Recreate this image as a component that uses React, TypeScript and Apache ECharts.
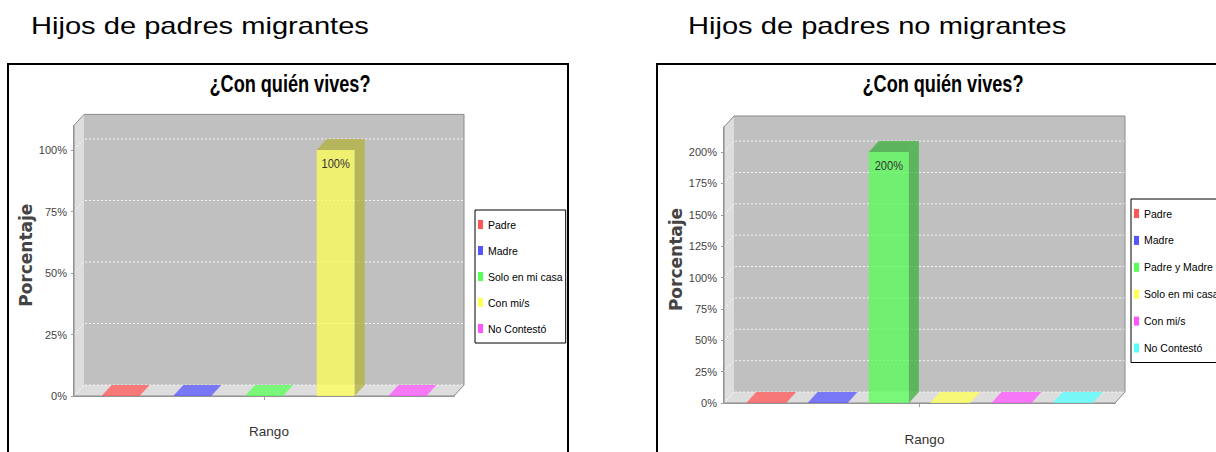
import React, { useEffect, useRef } from 'react';
import * as echarts from 'echarts';

// ---------- data ----------
const HEADINGS = ['Hijos de padres migrantes', 'Hijos de padres no migrantes'];
const CHART_TITLE = '¿Con quién vives?';
const X_NAME = 'Rango';
const Y_NAME = 'Porcentaje';

const leftCategories = ['Padre', 'Madre', 'Solo en mi casa', 'Con mi/s', 'No Contestó'];
const leftValues = [0, 0, 0, 100, 0];
const leftTicks = [0, 25, 50, 75, 100];
const leftMax = 110;

const rightCategories = ['Padre', 'Madre', 'Padre y Madre', 'Solo en mi casa', 'Con mi/s', 'No Contestó'];
const rightValues = [0, 0, 200, 0, 0, 0];
const rightTicks = [0, 25, 50, 75, 100, 125, 150, 175, 200];
const rightMax = 220;

const seriesRGB = [
  [255, 85, 85],
  [85, 85, 255],
  [85, 255, 85],
  [255, 255, 85],
  [255, 85, 255],
  [85, 255, 255],
];

// ---------- layout ----------
const SANS = "'Liberation Sans', Arial, sans-serif";
const ALPHA = 0.75;

const panels = [
  {
    cats: leftCategories, vals: leftValues, ticks: leftTicks, max: leftMax,
    frame: { x: 8, y: 64, w: 560, h: 420 },
    heading: { x: 31, y: 26.5 },
    title: { x: 290, y: 84.5 },
    grid: { left: 74, top: 125.4, width: 380, height: 270.6 },
    dx: 10, dy: 11, spacing: 0.1887, barW: 0.1,
    yNameGap: 36.5, xOffset: 5.5,
    legend: { left: 475, top: 210, itemGap: 15 },
  },
  {
    cats: rightCategories, vals: rightValues, ticks: rightTicks, max: rightMax,
    frame: { x: 657, y: 64, w: 620, h: 420 },
    heading: { x: 688, y: 26.5 },
    title: { x: 943, y: 84.5 },
    grid: { left: 724, top: 127, width: 391, height: 276 },
    dx: 10, dy: 11, spacing: 0.1568, barW: 0.1023,
    yNameGap: 38.5, xOffset: 6,
    legend: { left: 1131, top: 199, itemGap: 15.9 },
  },
];

const rgba = (c: number[], a: number) => `rgba(${c[0]},${c[1]},${c[2]},${a})`;
const darker = (c: number[]) => c.map((v) => Math.floor(v * 0.7));

function backdropRenderer(ticks: number[], dx: number, dy: number) {
  return (params: any, api: any) => {
    const cs = params.coordSys;
    const x0 = cs.x, x1 = cs.x + cs.width, yT = cs.y, yB = cs.y + cs.height;
    const children: any[] = [];
    children.push({ type: 'rect', shape: { x: x0 + dx, y: yT - dy, width: x1 - x0, height: yB - yT }, style: { fill: '#c0c0c0' } });
    children.push({ type: 'polygon', shape: { points: [[x0, yT], [x0 + dx, yT - dy], [x0 + dx, yB - dy], [x0, yB]] }, style: { fill: '#dddddd' } });
    children.push({ type: 'polygon', shape: { points: [[x0, yB], [x0 + dx, yB - dy], [x1 + dx, yB - dy], [x1, yB]] }, style: { fill: '#dddddd' } });
    ticks.forEach((v) => {
      const y = api.coord([0, v])[1];
      children.push({
        type: 'polyline',
        shape: { points: [[x0, y], [x0 + dx, y - dy], [x1 + dx, y - dy]] },
        style: { fill: 'none', stroke: 'rgba(255,255,255,0.85)', lineWidth: 1, lineDash: [2, 2] },
      });
    });
    children.push({
      type: 'polygon',
      shape: { points: [[x0, yB], [x0, yT], [x0 + dx, yT - dy], [x1 + dx, yT - dy], [x1 + dx, yB - dy], [x1, yB]] },
      style: { fill: 'none', stroke: '#8a8a8a', lineWidth: 1 },
    });
    return { type: 'group', children };
  };
}

function barRenderer(i: number, n: number, spacing: number, barW: number, dx: number, dy: number, rgb: number[]) {
  return (params: any, api: any) => {
    const cat = api.value(0);
    const v = api.value(1);
    const base = api.coord([cat, 0]);
    const top = api.coord([cat, v]);
    const sz = api.size ? api.size([1, 0]) : null;
    const band = sz && sz[0] ? sz[0] : params.coordSys.width;
    const cx = base[0] + (i - (n - 1) / 2) * band * spacing;
    const w = band * barW;
    const xL = cx - w / 2, xR = cx + w / 2;
    const yB = base[1], yT = top[1];
    const front = rgba(rgb, ALPHA);
    const dark = rgba(darker(rgb), ALPHA);
    const children: any[] = [];
    if (v <= 0) {
      children.push({
        type: 'polygon',
        shape: { points: [[xL, yB], [xL + dx, yB - dy], [xR + dx, yB - dy], [xR, yB]] },
        style: { fill: front },
      });
    } else {
      children.push({ type: 'rect', shape: { x: xL, y: yT, width: w, height: yB - yT }, style: { fill: front } });
      children.push({
        type: 'polygon',
        shape: { points: [[xL, yT], [xL + dx, yT - dy], [xR + dx, yT - dy], [xR, yT]] },
        style: { fill: dark },
      });
      children.push({
        type: 'polygon',
        shape: { points: [[xR, yT], [xR + dx, yT - dy], [xR + dx, yB - dy], [xR, yB]] },
        style: { fill: dark },
      });
      children.push({
        type: 'text', x: cx, y: yT + 13.5, scaleX: 0.82,
        style: {
          text: `${v}%`, x: 0, y: 0,
          align: 'center', verticalAlign: 'middle', textAlign: 'center', textVerticalAlign: 'middle',
          fill: '#333333', fontFamily: SANS, fontSize: 13.5,
        },
      });
    }
    return { type: 'group', children };
  };
}

function buildOption() {
  const graphic: any[] = [];
  const grid: any[] = [];
  const xAxis: any[] = [];
  const yAxis: any[] = [];
  const legend: any[] = [];
  const series: any[] = [];

  panels.forEach((p, k) => {
    graphic.push({
      type: 'rect', z: 0, silent: true,
      shape: { x: p.frame.x, y: p.frame.y, width: p.frame.w, height: p.frame.h },
      style: { fill: '#ffffff', stroke: '#000000', lineWidth: 2 },
    });
    graphic.push({
      type: 'text', x: p.heading.x, y: p.heading.y, scaleX: 1.265, z: 5,
      style: {
        text: HEADINGS[k], x: 0, y: 0,
        align: 'left', verticalAlign: 'middle', textAlign: 'left', textVerticalAlign: 'middle',
        fill: '#000000', fontFamily: SANS, fontSize: 23,
      },
    });
    graphic.push({
      type: 'text', x: p.title.x, y: p.title.y, scaleX: 0.755, z: 5,
      style: {
        text: CHART_TITLE, x: 0, y: 0,
        align: 'center', verticalAlign: 'middle', textAlign: 'center', textVerticalAlign: 'middle',
        fill: '#000000', fontFamily: SANS, fontWeight: 'bold', fontSize: 24,
      },
    });

    grid.push({ left: p.grid.left, top: p.grid.top, width: p.grid.width, height: p.grid.height, containLabel: false });

    xAxis.push({
      gridIndex: k, type: 'category', data: [''], boundaryGap: true, offset: p.xOffset,
      axisLine: { show: true, lineStyle: { color: '#a0a0a0', width: 2 } },
      axisTick: { show: true, alignWithLabel: true, length: 4, lineStyle: { color: '#a0a0a0' } },
      axisLabel: { show: false },
      splitLine: { show: false },
      name: X_NAME, nameLocation: 'middle', nameGap: 23,
      nameTextStyle: { fontFamily: SANS, fontSize: 13.5, color: '#333333', padding: [0, 0, 0, 10] },
    });

    yAxis.push({
      gridIndex: k, type: 'value', min: 0, max: p.max, interval: 25, offset: 1,
      axisLine: { show: true, lineStyle: { color: '#999999' } },
      axisTick: { show: true, length: 2, customValues: p.ticks, lineStyle: { color: '#999999' } },
      axisLabel: {
        customValues: p.ticks, margin: 6,
        formatter: (v: number) => (p.ticks.indexOf(v) >= 0 ? `${v}%` : ''),
        fontFamily: SANS, fontSize: 11, color: '#444444',
      },
      splitLine: { show: false },
      name: Y_NAME, nameLocation: 'middle', nameRotate: 90, nameGap: p.yNameGap,
      nameTextStyle: { fontFamily: 'DejaVu Sans', fontWeight: 'bold', fontSize: 17, color: '#444444', padding: [0, 0, 0, 11] },
    });

    legend.push({
      orient: 'vertical', left: p.legend.left, top: p.legend.top,
      padding: [9, 3, 9, 3], itemGap: p.legend.itemGap, itemWidth: 5, itemHeight: 9,
      icon: 'rect', selectedMode: false,
      backgroundColor: '#ffffff', borderColor: '#000000', borderWidth: 1,
      textStyle: { fontFamily: SANS, fontSize: 10.5, color: '#000000' },
      data: p.cats.map((c, i) => ({ name: c, icon: 'rect', itemStyle: { color: rgba(seriesRGB[i], 1) } })),
    });

    series.push({
      type: 'custom', name: `backdrop-${k}`, xAxisIndex: k, yAxisIndex: k, silent: true, z: 1,
      data: [[0, 0]], renderItem: backdropRenderer(p.ticks, p.dx, p.dy),
    });
    p.cats.forEach((c, i) => {
      series.push({
        type: 'custom', name: c, xAxisIndex: k, yAxisIndex: k, z: 2,
        itemStyle: { color: rgba(seriesRGB[i], 1) },
        data: [[0, p.vals[i]]],
        renderItem: barRenderer(i, p.cats.length, p.spacing, p.barW, p.dx, p.dy, seriesRGB[i]),
      });
    });
  });

  return {
    animation: false,
    backgroundColor: '#ffffff',
    graphic,
    grid,
    xAxis,
    yAxis,
    legend,
    series,
  };
}

export default function App() {
  const ref = useRef<HTMLDivElement>(null);
  useEffect(() => {
    if (!ref.current) return;
    const chart = echarts.init(ref.current, undefined, { renderer: 'svg' });
    chart.setOption(buildOption() as any);
    return () => chart.dispose();
  }, []);
  return (
    <div
      ref={ref}
      style={{ position: 'absolute', left: 0, top: 0, width: 1216, height: 452 }}
    />
  );
}
